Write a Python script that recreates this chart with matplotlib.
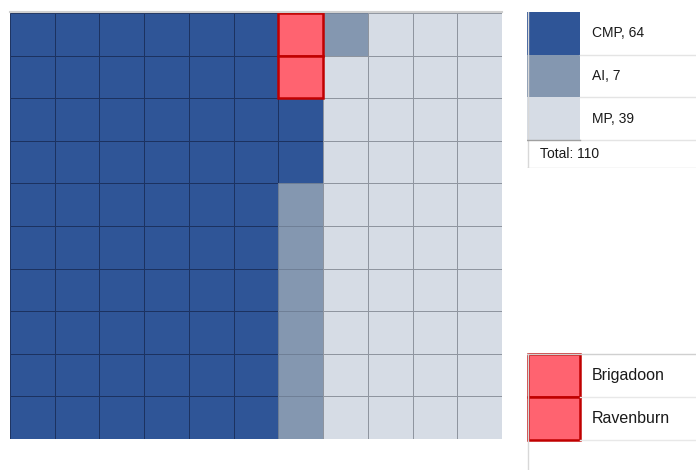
import matplotlib.pyplot as plt
from matplotlib.patches import Rectangle

# waffle chart: 11 columns x 10 rows, filled column by column from the top
categories = ['CMP', 'AI', 'MP']
counts = [64, 7, 39]
colors = ['#2F5597', '#8497B0', '#D6DCE5']
edge_colors = ['#1C3260', '#6F7F96', '#8E949E']
n_cols = 11
n_rows = 10

# highlighted cells (column, row from top)
highlight_names = ['Brigadoon', 'Ravenburn']
highlight_cells = [(6, 0), (6, 1)]
highlight_color = '#FF6370'
highlight_edge = '#C00000'

W, H = 696, 470
fig = plt.figure(figsize=(W / 100, H / 100), dpi=100)
plt.rcParams['font.family'] = ['Liberation Sans', 'DejaVu Sans']


def px_axes(x0, y0, x1, y1):
    # axes from pixel box (top-left origin)
    ax = fig.add_axes([x0 / W, 1 - y1 / H, (x1 - x0) / W, (y1 - y0) / H])
    ax.set_axis_off()
    return ax


# main grid
ax = px_axes(10, 13, 502, 439)
ax.set_xlim(0, n_cols)
ax.set_ylim(n_rows, 0)
idx = 0
for ci, c in enumerate(counts):
    for k in range(c):
        col = idx // n_rows
        row = idx % n_rows
        ax.add_patch(Rectangle((col, row), 1, 1, facecolor=colors[ci],
                               edgecolor=edge_colors[ci], linewidth=0.7))
        idx += 1
for col, row in highlight_cells:
    ax.add_patch(Rectangle((col, row), 1, 1, facecolor=highlight_color,
                           edgecolor=highlight_edge, linewidth=1.8, zorder=3))
fig.add_artist(plt.Line2D([10 / W, 502 / W], [1 - 12 / H, 1 - 12 / H],
                          color='#D0D0D0', linewidth=1.5))

# top legend
lg = px_axes(527, 12, 696, 168)
lg.set_xlim(527, 696)
lg.set_ylim(168, 12)
row_h = 42.7
for i, (name, c) in enumerate(zip(categories, counts)):
    y = 12 + i * row_h
    lg.add_patch(Rectangle((527, y), 53, row_h, facecolor=colors[i],
                           edgecolor='none'))
    lg.plot([580, 696], [y + row_h, y + row_h], color='#E4E4E4', linewidth=1)
    lg.text(592, y + row_h / 2, f'{name}, {c}', fontsize=10, va='center',
            color='#1A1A1A')
lg.text(540, 140 + 14, f'Total: {sum(counts)}', fontsize=10, va='center',
        color='#1A1A1A')
lg.plot([527.5, 527.5], [12, 168], color='#D8D8D8', linewidth=1)
lg.plot([527, 696], [167.5, 167.5], color='#D8D8D8', linewidth=1)
lg.plot([527, 580], [140, 140], color='#A0A0A0', linewidth=1)

# bottom legend for highlighted cells
hl = px_axes(527, 353, 696, 470)
hl.set_xlim(527, 696)
hl.set_ylim(470, 353)
hl.plot([527, 696], [354, 354], color='#D0D0D0', linewidth=1)
hl.plot([527.5, 527.5], [354, 470], color='#D8D8D8', linewidth=1)
for i, name in enumerate(highlight_names):
    y = 354 + i * 43
    hl.add_patch(Rectangle((528, y + 0.5), 52, 42.5, facecolor=highlight_color,
                           edgecolor=highlight_edge, linewidth=1.8))
    hl.plot([580, 696], [y + 43, y + 43], color='#E8E8E8', linewidth=1)
    hl.text(592, y + 21.5, name, fontsize=11.5, va='center', color='#1A1A1A')

fig.savefig('out.png', dpi=100)
